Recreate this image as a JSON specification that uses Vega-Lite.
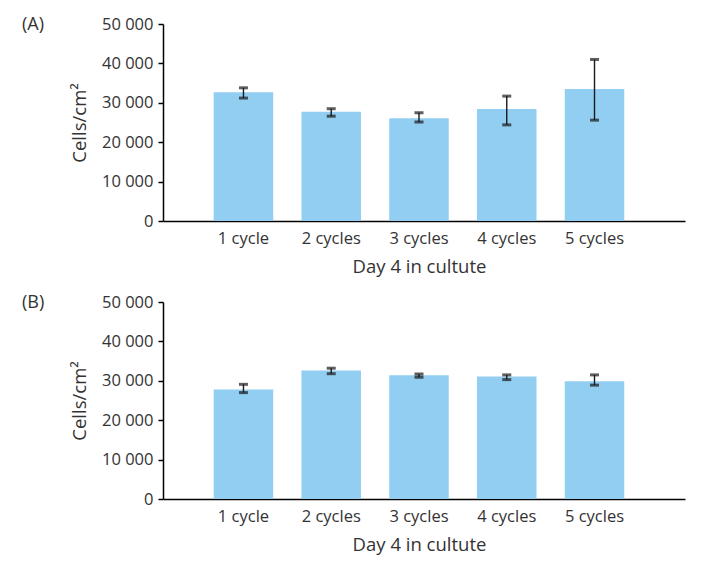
{
  "$schema": "https://vega.github.io/schema/vega-lite/v6.json",
  "padding": {"left": 22, "top": 16, "right": 5, "bottom": 5},
  "background": "white",
  "spacing": 18,
  "config": {
    "font": "Open Sans",
    "view": {"stroke": null},
    "axis": {"grid": false, "domainColor": "#000", "domainWidth": 1.5, "labelColor": "#333", "titleColor": "#333", "titleFontWeight": "normal", "labelFontSize": 16.5, "titleFontSize": 18.5, "labelOverlap": false}
  },
  "datasets": {
    "d": [
      {"panel": "A", "cycle": "1 cycle", "mean": 32700, "lo": 31200, "hi": 33800},
      {"panel": "A", "cycle": "2 cycles", "mean": 27700, "lo": 26600, "hi": 28500},
      {"panel": "A", "cycle": "3 cycles", "mean": 26100, "lo": 25100, "hi": 27500},
      {"panel": "A", "cycle": "4 cycles", "mean": 28400, "lo": 24400, "hi": 31700},
      {"panel": "A", "cycle": "5 cycles", "mean": 33500, "lo": 25600, "hi": 41000},
      {"panel": "B", "cycle": "1 cycle", "mean": 27800, "lo": 27000, "hi": 29100},
      {"panel": "B", "cycle": "2 cycles", "mean": 32600, "lo": 31800, "hi": 33200},
      {"panel": "B", "cycle": "3 cycles", "mean": 31400, "lo": 30900, "hi": 31700},
      {"panel": "B", "cycle": "4 cycles", "mean": 31100, "lo": 30300, "hi": 31500},
      {"panel": "B", "cycle": "5 cycles", "mean": 29900, "lo": 28900, "hi": 31500}
    ]
  },
  "vconcat": [
    {
      "width": 522, "height": 197,
      "title": {"text": "(A)", "anchor": "start", "frame": "group", "dx": -141, "offset": -18, "fontSize": 18, "fontWeight": "normal", "color": "#333"},
      "data": {"name": "d"},
      "transform": [{"filter": "datum.panel == 'A'"}],
      "encoding": {
        "x": {"field": "cycle", "type": "nominal", "sort": null,
          "scale": {"paddingInner": 0.322, "paddingOuter": 0.635, "align": 0.455},
          "axis": {"labelAngle": 0, "ticks": false, "labelPadding": 9, "title": "Day 4 in cultute", "titlePadding": 11, "titleX": 256}}
      },
      "layer": [
        {"mark": {"type": "bar", "color": "#91CEF1"},
         "encoding": {"y": {"field": "mean", "type": "quantitative", "scale": {"domain": [0, 50000]},
           "axis": {"values": [0, 10000, 20000, 30000, 40000, 50000], "labelExpr": "replace(format(datum.value, ','), ',', ' ')", "tickColor": "#000", "tickWidth": 1.5, "tickSize": 5, "labelPadding": 5, "title": "Cells/cm²", "titlePadding": 12}}}},
        {"mark": {"type": "rule", "color": "#1a1a1a", "strokeWidth": 1.4},
         "encoding": {"y": {"field": "lo", "type": "quantitative", "scale": {"domain": [0, 50000]},
           "axis": {"values": [0, 10000, 20000, 30000, 40000, 50000], "labelExpr": "replace(format(datum.value, ','), ',', ' ')", "tickColor": "#000", "tickWidth": 1.5, "tickSize": 5, "labelPadding": 5, "title": "Cells/cm²", "titlePadding": 12}}, "y2": {"field": "hi"}}},
        {"mark": {"type": "tick", "color": "#1a1a1a", "thickness": 3, "size": 9},
         "encoding": {"y": {"field": "lo", "type": "quantitative", "scale": {"domain": [0, 50000]},
           "axis": {"values": [0, 10000, 20000, 30000, 40000, 50000], "labelExpr": "replace(format(datum.value, ','), ',', ' ')", "tickColor": "#000", "tickWidth": 1.5, "tickSize": 5, "labelPadding": 5, "title": "Cells/cm²", "titlePadding": 12}}}},
        {"mark": {"type": "tick", "color": "#1a1a1a", "thickness": 3, "size": 9},
         "encoding": {"y": {"field": "hi", "type": "quantitative", "scale": {"domain": [0, 50000]},
           "axis": {"values": [0, 10000, 20000, 30000, 40000, 50000], "labelExpr": "replace(format(datum.value, ','), ',', ' ')", "tickColor": "#000", "tickWidth": 1.5, "tickSize": 5, "labelPadding": 5, "title": "Cells/cm²", "titlePadding": 12}}}}
      ]
    },
    {
      "width": 522, "height": 197,
      "title": {"text": "(B)", "anchor": "start", "frame": "group", "dx": -141, "offset": -18, "fontSize": 18, "fontWeight": "normal", "color": "#333"},
      "data": {"name": "d"},
      "transform": [{"filter": "datum.panel == 'B'"}],
      "encoding": {
        "x": {"field": "cycle", "type": "nominal", "sort": null,
          "scale": {"paddingInner": 0.322, "paddingOuter": 0.635, "align": 0.455},
          "axis": {"labelAngle": 0, "ticks": false, "labelPadding": 9, "title": "Day 4 in cultute", "titlePadding": 11, "titleX": 256}}
      },
      "layer": [
        {"mark": {"type": "bar", "color": "#91CEF1"},
         "encoding": {"y": {"field": "mean", "type": "quantitative", "scale": {"domain": [0, 50000]},
           "axis": {"values": [0, 10000, 20000, 30000, 40000, 50000], "labelExpr": "replace(format(datum.value, ','), ',', ' ')", "tickColor": "#000", "tickWidth": 1.5, "tickSize": 5, "labelPadding": 5, "title": "Cells/cm²", "titlePadding": 12}}}},
        {"mark": {"type": "rule", "color": "#1a1a1a", "strokeWidth": 1.4},
         "encoding": {"y": {"field": "lo", "type": "quantitative", "scale": {"domain": [0, 50000]},
           "axis": {"values": [0, 10000, 20000, 30000, 40000, 50000], "labelExpr": "replace(format(datum.value, ','), ',', ' ')", "tickColor": "#000", "tickWidth": 1.5, "tickSize": 5, "labelPadding": 5, "title": "Cells/cm²", "titlePadding": 12}}, "y2": {"field": "hi"}}},
        {"mark": {"type": "tick", "color": "#1a1a1a", "thickness": 3, "size": 9},
         "encoding": {"y": {"field": "lo", "type": "quantitative", "scale": {"domain": [0, 50000]},
           "axis": {"values": [0, 10000, 20000, 30000, 40000, 50000], "labelExpr": "replace(format(datum.value, ','), ',', ' ')", "tickColor": "#000", "tickWidth": 1.5, "tickSize": 5, "labelPadding": 5, "title": "Cells/cm²", "titlePadding": 12}}}},
        {"mark": {"type": "tick", "color": "#1a1a1a", "thickness": 3, "size": 9},
         "encoding": {"y": {"field": "hi", "type": "quantitative", "scale": {"domain": [0, 50000]},
           "axis": {"values": [0, 10000, 20000, 30000, 40000, 50000], "labelExpr": "replace(format(datum.value, ','), ',', ' ')", "tickColor": "#000", "tickWidth": 1.5, "tickSize": 5, "labelPadding": 5, "title": "Cells/cm²", "titlePadding": 12}}}}
      ]
    }
  ]
}
